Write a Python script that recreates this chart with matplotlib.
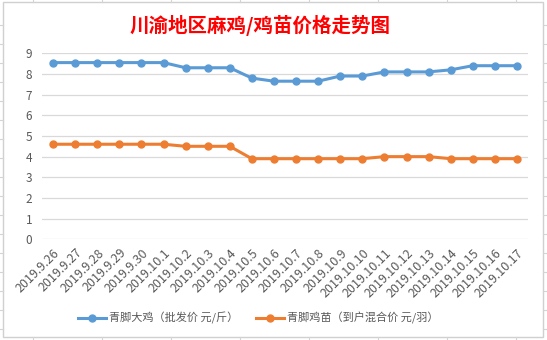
import matplotlib.pyplot as plt
from matplotlib.lines import Line2D
from matplotlib.patches import Rectangle

plt.rcParams['font.family'] = ['Noto Sans CJK SC', 'DejaVu Sans']

dates = ['2019.9.26', '2019.9.27', '2019.9.28', '2019.9.29', '2019.9.30',
         '2019.10.1', '2019.10.2', '2019.10.3', '2019.10.4', '2019.10.5',
         '2019.10.6', '2019.10.7', '2019.10.8', '2019.10.9', '2019.10.10',
         '2019.10.11', '2019.10.12', '2019.10.13', '2019.10.14', '2019.10.15',
         '2019.10.16', '2019.10.17']
big_chicken = [8.55, 8.55, 8.55, 8.55, 8.55, 8.55, 8.3, 8.3, 8.3, 7.8,
               7.65, 7.65, 7.65, 7.9, 7.9, 8.1, 8.1, 8.1, 8.2, 8.4, 8.4, 8.4]
chick = [4.6, 4.6, 4.6, 4.6, 4.6, 4.6, 4.5, 4.5, 4.5, 3.9,
         3.9, 3.9, 3.9, 3.9, 3.9, 4.0, 4.0, 4.0, 3.9, 3.9, 3.9, 3.9]
names = ['青脚大鸡（批发价 元/斤）', '青脚鸡苗（到户混合价 元/羽）']

W, H = 547, 340
fig = plt.figure(figsize=(W / 100, H / 100), dpi=100)

# spreadsheet grid behind the chart
grid_c = '#d4d4d4'
for k in range(18):
    y = 1 - (25 + 19 * k) / H
    fig.add_artist(Line2D([0, 3 / W], [y, y], color=grid_c, lw=0.8))
    fig.add_artist(Line2D([543 / W, 1], [y, y], color=grid_c, lw=0.8))
for k in range(8):
    x = (33 + 69 * k) / W
    fig.add_artist(Line2D([x, x], [1, 1 - 2 / H], color=grid_c, lw=0.8))
    fig.add_artist(Line2D([x, x], [0, 3 / H], color=grid_c, lw=0.8))
fig.add_artist(Rectangle((3 / W, 3 / H), 540 / W, 335 / H, transform=fig.transFigure,
                         fill=False, edgecolor='#d0d0d0', lw=1))

ax = fig.add_axes([42 / W, 1 - 239.3 / H, 486 / W, (239.3 - 53.3) / H])
x = list(range(len(dates)))
blue = '#5b9bd5'
orange = '#ed7d31'
ax.plot(x, big_chicken, color=blue, lw=2.2, marker='o', ms=5, label=names[0])
ax.plot(x, chick, color=orange, lw=2.2, marker='o', ms=5, label=names[1])

ax.set_xlim(-0.5, len(dates) - 0.5)
ax.set_ylim(0, 9)
ax.set_yticks(range(10))
ax.grid(axis='y', color='#d9d9d9', lw=0.9)
ax.set_axisbelow(True)
for s in ax.spines.values():
    s.set_visible(False)
ax.tick_params(length=0, labelsize=8.5, colors='#595959', pad=7)
ax.set_xticks(x)
ax.set_xticklabels(dates, rotation=45, ha='right', rotation_mode='anchor', fontsize=9)
ax.tick_params(axis='x', pad=5)

fig.text(0.476, 1 - 25 / H, '川渝地区麻鸡/鸡苗价格走势图', color='red', fontsize=14,
         fontweight='bold', ha='center', va='center')

fig.legend(loc='center', bbox_to_anchor=(0.472, 1 - 318 / H), ncol=2, frameon=False,
           fontsize=8, handlelength=2.5, columnspacing=1.6, handletextpad=0.3,
           labelcolor='#595959')

fig.savefig('out.png', dpi=100)
